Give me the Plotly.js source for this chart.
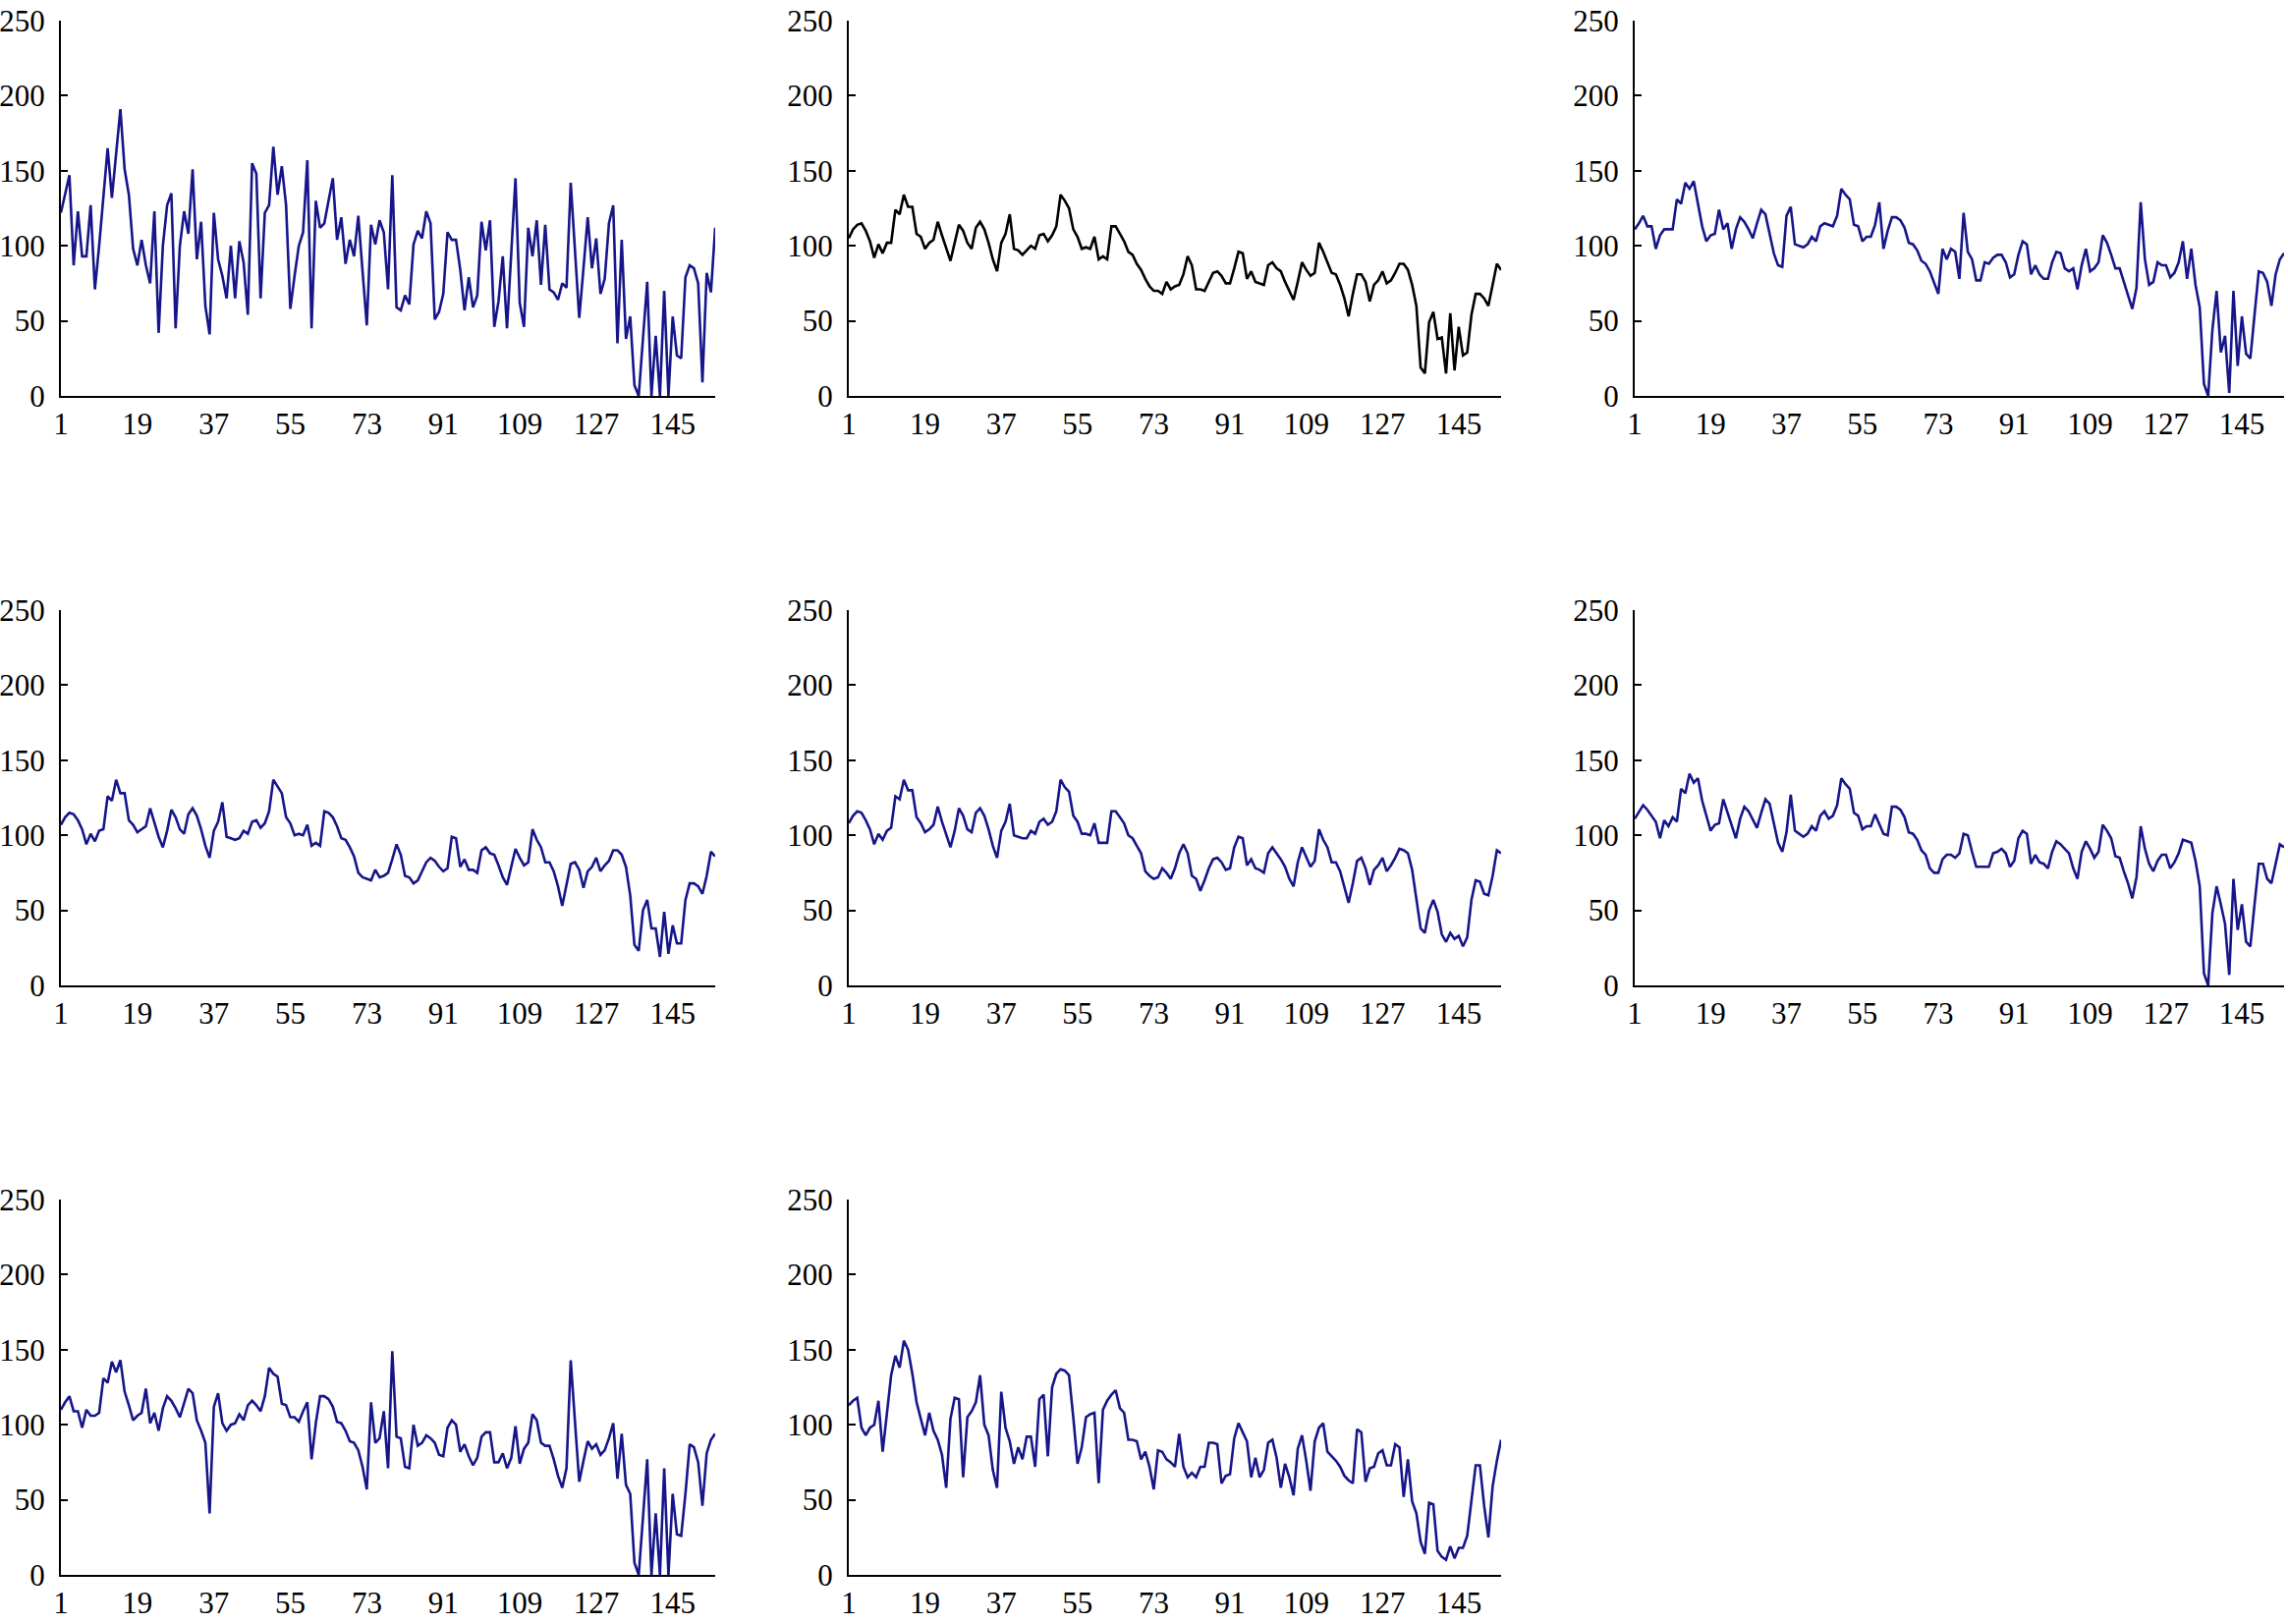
<!DOCTYPE html>
<html>
<head>
<meta charset="utf-8">
<script src="https://cdn.plot.ly/plotly-3.0.1.min.js"></script>
<style>
  html, body { margin: 0; padding: 0; background: #fff; }
  #chart { width: 2329px; height: 1653px; }
</style>
</head>
<body>
<div id="chart"></div>
<script>
// values, one entry per sample (1..155)
var series1 = [122,135,147,87,123,93,93,127,71,100, 131,165,132,160,191,151,134,98,87,104,
    87,75,123,42,100,127,135,45,100,123, 108,151,91,116,60,41,122,91,80,65,
    100,65,103,89,54,155,148,65,122,127, 166,134,153,127,58,80,100,109,157,45,
    130,112,115,130,145,104,119,88,104,93, 120,83,47,114,101,117,109,71,147,59,
    57,67,61,101,110,105,123,115,51,56, 68,109,104,104,84,57,79,59,67,116,
    97,117,46,63,93,45,95,145,62,46, 112,93,117,74,114,71,69,64,75,72,
    142,97,52,85,119,85,105,68,78,115, 127,35,104,38,53,7,0,38,76,0,
    40,0,70,0,53,27,25,79,87,85, 75,9,82,69,112];

var series2 = [105,111,114,115,110,103,92,101,95,102, 102,124,121,134,126,126,108,106,98,102,
    104,116,107,98,90,102,114,110,102,98, 112,116,111,102,91,83,102,108,121,98,
    97,94,97,100,98,107,108,103,107,113, 134,130,125,111,106,98,99,98,106,91,
    93,91,113,113,108,103,96,94,88,84, 78,73,70,70,68,76,71,73,74,81,
    93,87,71,71,70,76,82,83,80,75, 75,85,96,95,78,83,76,75,74,87,
    89,85,83,76,70,64,76,89,84,80, 82,102,96,89,82,81,74,65,53,68,
    81,81,76,63,74,77,83,75,77,82, 88,88,84,74,60,19,15,49,56,38,
    39,15,55,17,46,27,29,54,68,68, 65,60,74,88,84];

var series3 = [111,115,120,113,113,98,107,111,111,111, 131,128,142,138,143,128,113,103,107,108,
    124,111,115,98,111,119,116,111,105,115, 124,121,107,95,87,86,120,126,101,100,
    99,101,106,103,113,115,114,113,120,138, 134,131,114,113,103,106,106,114,129,98,
    110,119,119,117,112,102,101,97,90,88, 83,76,68,98,91,98,96,78,122,96,
    91,77,77,89,88,92,94,94,89,79, 81,94,103,101,81,87,81,78,78,89,
    96,95,85,83,85,71,87,98,83,85, 89,107,102,94,85,85,76,68,58,72,
    129,91,74,76,89,87,87,79,82,89, 103,78,98,74,59,8,0,44,70,29,
    40,2,70,20,53,28,25,54,83,82, 76,60,81,91,95];

var series4 = [107,112,115,114,110,104,94,101,96,103, 104,126,123,137,128,128,110,107,102,104,
    106,118,108,99,92,103,117,112,104,101, 114,118,113,104,93,85,103,109,122,99,
    98,97,98,103,101,109,110,105,108,116, 137,132,128,112,108,100,101,100,107,93,
    95,93,116,115,112,106,98,97,92,86, 75,72,71,70,77,72,73,75,84,94,
    87,73,72,68,70,76,82,85,83,79, 76,78,99,98,79,84,77,77,75,90,
    92,88,87,80,72,67,80,91,85,80, 82,104,97,92,82,82,76,66,53,68,
    81,82,77,65,76,79,85,76,80,83, 90,90,87,79,60,27,23,50,57,38,
    38,19,49,21,40,28,28,57,68,68, 66,61,73,89,86];

var series5 = [108,113,116,115,110,104,94,101,97,103, 105,126,124,137,130,130,112,108,102,104,
    107,119,109,100,92,103,118,113,104,102, 115,118,113,104,93,85,103,109,121,100,
    99,98,98,103,101,109,111,107,109,116, 137,132,129,113,109,101,101,100,108,95,
    95,95,116,116,112,108,100,98,93,88, 76,73,71,72,78,75,71,78,88,94,
    88,73,71,63,70,78,84,85,82,77, 78,92,99,98,80,84,78,77,75,88,
    92,88,84,79,71,66,82,92,85,79, 83,104,97,92,82,82,76,66,55,68,
    83,85,78,67,77,80,85,76,80,85, 91,90,88,77,58,38,35,50,57,49,
    34,29,35,31,33,26,32,57,70,69, 61,60,73,90,88];

var series6 = [111,116,120,117,113,109,98,110,106,112, 109,131,128,141,135,138,123,113,103,107,
    108,124,115,107,98,111,119,116,110,105, 115,124,121,109,95,89,102,127,103,101,
    99,101,106,103,113,116,111,113,120,138, 134,131,115,113,104,106,106,114,108,101,
    100,119,119,117,112,102,101,97,90,87, 78,75,75,84,87,87,85,88,101,100,
    89,79,79,79,79,88,89,91,88,79, 83,98,103,101,81,87,82,81,78,89,
    96,94,91,88,78,71,89,96,91,85, 89,107,103,98,86,85,76,68,58,72,
    106,91,81,76,83,87,87,78,82,88, 97,96,95,83,66,8,0,48,66,54,
    41,7,71,37,54,29,26,54,81,81, 71,68,81,94,92];

var series7 = [110,115,119,109,109,98,110,106,106,108, 131,128,142,135,143,122,113,103,106,108,
    124,101,108,96,111,119,116,111,105,115, 124,121,103,96,88,41,112,121,101,96,
    100,101,107,103,113,116,113,109,119,138, 134,132,114,113,105,105,102,109,115,77,
    101,119,119,117,112,102,101,96,89,88, 83,72,57,115,88,91,109,71,149,92,
    91,72,71,100,86,88,93,91,88,80, 79,98,103,100,82,87,79,73,78,92,
    95,95,75,75,81,71,78,99,74,84, 88,107,103,88,86,86,77,66,58,71,
    143,102,62,76,89,84,87,80,83,91, 101,64,94,60,54,8,0,38,77,0,
    41,0,71,0,54,27,26,54,87,85, 75,46,81,90,94];

var series8 = [113,116,118,98,93,98,100,116,82,108, 133,146,138,156,150,134,115,104,93,108,
    96,90,80,58,104,118,117,65,105,109, 115,133,100,93,70,58,122,98,89,74,
    85,77,92,92,72,117,120,79,125,134, 137,136,133,105,74,85,105,107,108,61,
    110,116,120,123,111,108,90,90,89,77, 82,72,57,83,82,77,75,72,94,72,
    65,68,65,72,72,88,88,87,61,66, 67,91,101,95,89,65,78,65,70,88,
    90,78,58,74,65,53,84,93,76,56, 89,98,101,82,79,76,72,66,63,61,
    97,95,62,71,72,81,83,73,73,87, 85,52,77,49,41,22,14,48,47,16,
    12,10,19,11,18,18,26,48,73,73, 46,25,59,76,90];

var allSeries = [series1, series2, series3, series4, series5, series6, series7, series8];
var lineColors = ['#16168a', '#000000', '#16168a', '#16168a', '#16168a', '#16168a', '#16168a', '#16168a'];

var xTickVals = [1, 19, 37, 55, 73, 91, 109, 127, 145];
var yTickVals = [0, 50, 100, 150, 200, 250];

// panel boxes in page pixels
var W = 2329, H = 1653;
var colLeft = [62, 864, 1664];
var colRight = [728, 1528, 2325];
var rowTop = [21, 621, 1221];
var rowBottom = [403, 1003, 1603];

var tickFont = {family: 'Liberation Serif, Times New Roman, serif', size: 31, color: '#000'};

var data = [];
var layout = {
    width: W,
    height: H,
    margin: {l: 0, r: 0, t: 0, b: 0},
    paper_bgcolor: '#fff',
    plot_bgcolor: '#fff',
    showlegend: false
};

for (var i = 0; i < allSeries.length; i++) {
    var row = Math.floor(i / 3);
    var col = i % 3;
    var suffix = i === 0 ? '' : String(i + 1);
    var ys = allSeries[i];
    var xs = ys.map(function(v, k) { return k + 1; });

    data.push({
        x: xs,
        y: ys,
        type: 'scatter',
        mode: 'lines',
        xaxis: 'x' + suffix,
        yaxis: 'y' + suffix,
        line: {color: lineColors[i], width: 2.6},
        hoverinfo: 'skip'
    });

    layout['xaxis' + suffix] = {
        domain: [colLeft[col] / W, colRight[col] / W],
        anchor: 'y' + suffix,
        range: [1, ys.length],
        showline: true,
        linecolor: '#000',
        linewidth: 2,
        showgrid: false,
        zeroline: false,
        ticks: '',
        tickmode: 'array',
        tickvals: xTickVals,
        tickfont: tickFont,
        ticklabelstandoff: 0,
        fixedrange: true
    };
    layout['yaxis' + suffix] = {
        domain: [1 - rowBottom[row] / H, 1 - rowTop[row] / H],
        anchor: 'x' + suffix,
        range: [0, 250],
        showline: true,
        linecolor: '#000',
        linewidth: 2,
        showgrid: false,
        zeroline: false,
        ticks: 'inside',
        ticklen: 7,
        tickwidth: 2,
        tickcolor: '#000',
        tickmode: 'array',
        tickvals: yTickVals,
        tickfont: tickFont,
        ticklabelstandoff: 8,
        fixedrange: true
    };
}

Plotly.newPlot('chart', data, layout, {displayModeBar: false, staticPlot: true});
</script>
</body>
</html>
